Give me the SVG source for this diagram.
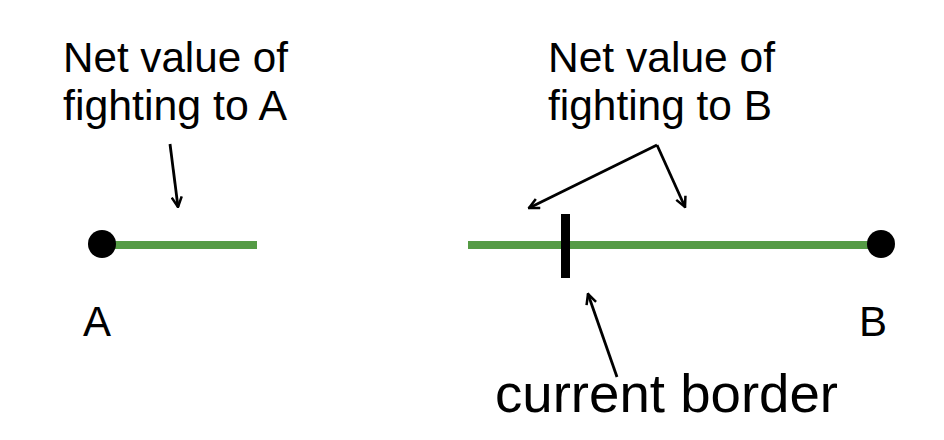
<svg xmlns="http://www.w3.org/2000/svg" width="944" height="440" viewBox="0 0 944 440">
<style>
text{font-family:"Liberation Sans",Arial,sans-serif;fill:#000}
.lbl{font-size:42px}
.big{font-size:53px}
.green{stroke:#559b45;stroke-width:8;fill:none}
.arr{stroke:#000;stroke-width:2.8;fill:none;marker-end:url(#ah)}
</style>
<defs>
<marker id="ah" viewBox="0 0 10 10" refX="9" refY="5" markerWidth="4.5" markerHeight="4.5" orient="auto" markerUnits="strokeWidth">
<path d="M1,1 L9,5 L1,9" fill="none" stroke="#000" stroke-width="2"/>
</marker>
</defs>
<rect width="944" height="440" fill="#fff"/>
<g id="lineA"><line class="green" x1="102" y1="245" x2="257" y2="245"/></g>
<g id="lineB"><line class="green" x1="468" y1="245" x2="880" y2="245"/></g>
<g id="nodeA"><circle cx="102" cy="244" r="14" fill="#000"/><text class="lbl" x="83" y="336">A</text></g>
<g id="nodeB"><circle cx="881" cy="244" r="14" fill="#000"/><text class="lbl" x="859" y="336">B</text></g>
<g id="border"><rect x="561" y="214" width="9" height="64" fill="#000"/></g>
<g id="labelA"><text class="lbl" x="63" y="72" textLength="225" lengthAdjust="spacingAndGlyphs">Net value of</text><text class="lbl" x="63" y="120" textLength="224" lengthAdjust="spacingAndGlyphs">fighting to A</text></g>
<g id="labelB"><text class="lbl" x="548" y="72" textLength="227" lengthAdjust="spacingAndGlyphs">Net value of</text><text class="lbl" x="548" y="120" textLength="224" lengthAdjust="spacingAndGlyphs">fighting to B</text></g>
<g id="labelBorder"><text class="big" x="495" y="412" textLength="343" lengthAdjust="spacingAndGlyphs">current border</text></g>
<g id="connectors">
<line class="arr" x1="170" y1="144" x2="178" y2="207"/>
<line class="arr" x1="657" y1="145" x2="529" y2="208"/>
<line class="arr" x1="657" y1="145" x2="685" y2="207"/>
<line class="arr" x1="617" y1="377" x2="588" y2="294"/>
</g>
</svg>
